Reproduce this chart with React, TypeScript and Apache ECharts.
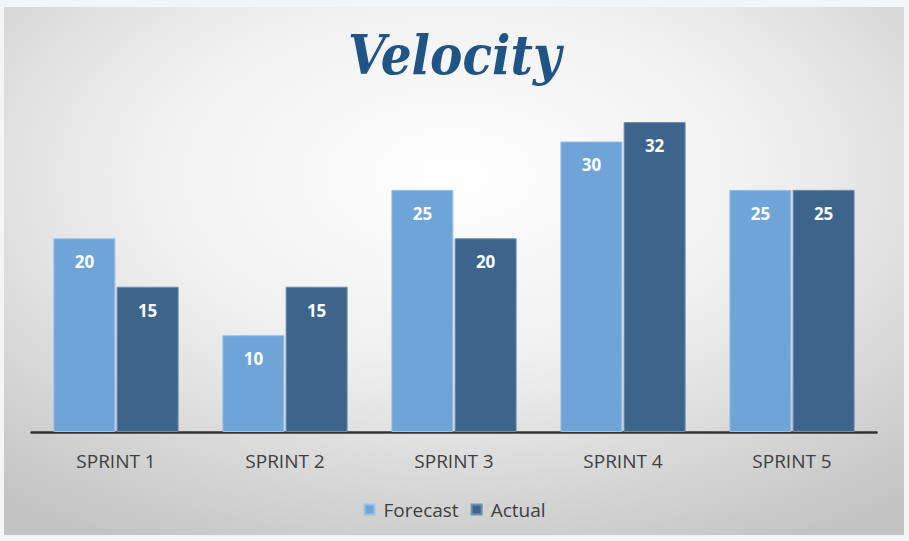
import React, { useEffect, useRef } from "react";
import * as echarts from "echarts";

const categories = ["SPRINT 1", "SPRINT 2", "SPRINT 3", "SPRINT 4", "SPRINT 5"];
const forecast = [20, 10, 25, 30, 25];
const actual = [15, 15, 20, 32, 25];

export default function App() {
  const ref = useRef<HTMLDivElement>(null);
  useEffect(() => {
    document.body.style.margin = "0";
    const chart = echarts.init(ref.current!, null, { renderer: "svg" });
    const font = "'Open Sans', Lato, sans-serif";
    chart.setOption({
      animation: false,
      backgroundColor: "#f3f5f6",
      graphic: [
        {
          type: "rect",
          z: -10,
          silent: true,
          shape: { x: 4, y: 7, width: 900, height: 528 },
          style: {
            fill: {
              type: "radial",
              x: 0.5,
              y: 0.32,
              r: 0.78,
              colorStops: [
                { offset: 0, color: "#ffffff" },
                { offset: 0.45, color: "#f0f0f0" },
                { offset: 1, color: "#c4c4c4" },
              ],
            },
          },
        },
      ],
      title: {
        text: "Velocity",
        left: "center",
        top: 23,
        textStyle: {
          fontFamily: "'DejaVu Serif Condensed', 'DejaVu Serif', serif",
          fontStyle: "italic",
          fontWeight: "bold",
          fontSize: 54,
          color: "#1f5484",
        },
      },
      legend: {
        bottom: 17,
        left: "center",
        itemWidth: 10,
        itemHeight: 10,
        itemGap: 12,
        icon: "rect",
        textStyle: { fontFamily: font, fontSize: 19, color: "#404040", padding: [0, 0, 0, 4] },
        data: ["Forecast", "Actual"],
      },
      grid: { left: 31.5, right: 32.5, top: 93, bottom: 109, containLabel: false },
      xAxis: {
        type: "category",
        data: categories,
        axisLine: { lineStyle: { color: "#333333", width: 2.5 } },
        axisTick: { show: false },
        axisLabel: { fontFamily: font, fontSize: 19, color: "#404040", margin: 19 },
      },
      yAxis: {
        type: "value",
        min: 0,
        max: 35,
        show: false,
        splitLine: { show: false },
      },
      series: [
        {
          name: "Forecast",
          type: "bar",
          data: forecast,
          barWidth: 62,
          barGap: "2%",
          itemStyle: { color: "#6fa4d8", borderColor: "#9cc2e8", borderWidth: 1 },
          label: {
            show: true,
            position: "insideTop",
            distance: 15,
            fontFamily: font,
            fontWeight: "bold",
            fontSize: 17,
            color: "#ffffff",
          },
        },
        {
          name: "Actual",
          type: "bar",
          data: actual,
          barWidth: 62,
          itemStyle: { color: "#3d648b", borderColor: "#6f8fae", borderWidth: 1 },
          label: {
            show: true,
            position: "insideTop",
            distance: 15,
            fontFamily: font,
            fontWeight: "bold",
            fontSize: 17,
            color: "#ffffff",
          },
        },
      ],
    });
    return () => chart.dispose();
  }, []);
  return <div ref={ref} style={{ width: 909, height: 541 }} />;
}
